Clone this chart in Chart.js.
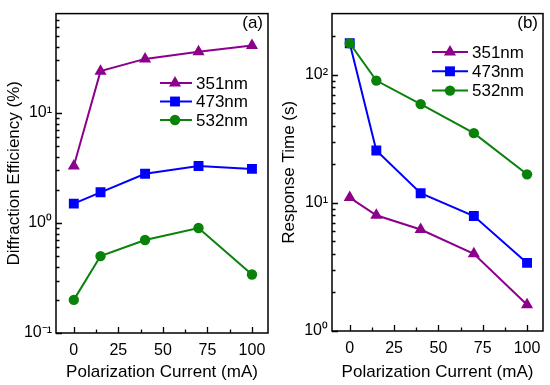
<!DOCTYPE html>
<html>
<head>
<meta charset="utf-8">
<script src="https://cdn.jsdelivr.net/npm/chart.js@4/dist/chart.umd.min.js"></script>
<style>
  html, body { margin: 0; padding: 0; background: #fff; }
  #wrap { width: 550px; height: 385px; display: flex; }
  canvas { display: block; }
</style>
</head>
<body>
<div id="wrap">
  <canvas id="effChart" width="275" height="385"></canvas>
  <canvas id="timeChart" width="275" height="385"></canvas>
</div>
<script>
// data
const current = [0, 15, 40, 70, 100];
const wavelengths = ['351nm', '473nm', '532nm'];
const eff351 = [3.3, 24, 31, 36, 41];
const eff473 = [1.5, 1.9, 2.8, 3.3, 3.1];
const eff532 = [0.2, 0.5, 0.7, 0.9, 0.34];
const time351 = [11, 8.0, 6.2, 4.0, 1.6];
const time473 = [176, 25.6, 11.9, 7.9, 3.4];
const time532 = [176, 90, 59, 35, 16.7];
const xTicks = [0, 25, 50, 75, 100];
const xMinor = [12.5, 37.5, 62.5, 87.5];

const colors = ['#8c008c', '#0000ff', '#0a820a'];
const shapes = ['triangle', 'rect', 'circle'];
const radii = [7, 7, 5.2];
const FONT = 'Liberation Sans, Arial, sans-serif';
const sup = { '-': '⁻', '0': '⁰', '1': '¹', '2': '²' };

function pts(ys) {
  return current.map((c, i) => ({ x: c, y: ys[i] }));
}

function makeSets(series) {
  return series.map((ys, i) => ({
    label: wavelengths[i],
    data: pts(ys),
    borderColor: colors[i],
    backgroundColor: colors[i],
    borderWidth: 2,
    pointStyle: shapes[i],
    pointRadius: radii[i],
    pointBorderWidth: 0,
    tension: 0,
    order: 3 - i
  }));
}

function minorTicks(min, max) {
  const out = [];
  for (let d = Math.pow(10, Math.floor(Math.log10(min))); d < max; d *= 10) {
    for (let k = 2; k <= 9; k++) {
      const v = k * d;
      if (v > min && v < max) out.push(v);
    }
  }
  return out;
}

// box, inward ticks, panel letter and in-plot legend
const frame = {
  id: 'frame',
  afterDraw(chart) {
    const { ctx, chartArea: a } = chart;
    const x = chart.scales.x, y = chart.scales.y;
    const setup = chart.config.options.frameSetup;
    ctx.save();
    ctx.strokeStyle = '#000';
    ctx.lineWidth = 1.5;
    ctx.strokeRect(a.left, a.top, a.right - a.left, a.bottom - a.top);

    ctx.lineWidth = 1.3;
    ctx.beginPath();
    for (const v of xTicks) {
      const p = Math.round(x.getPixelForValue(v)) + 0.5;
      ctx.moveTo(p, a.bottom);
      ctx.lineTo(p, a.bottom - 6);
    }
    for (const v of xMinor) {
      const p = Math.round(x.getPixelForValue(v)) + 0.5;
      ctx.moveTo(p, a.bottom);
      ctx.lineTo(p, a.bottom - 3.5);
    }
    for (const v of setup.yMajor) {
      const p = Math.round(y.getPixelForValue(v)) + 0.5;
      ctx.moveTo(a.left, p);
      ctx.lineTo(a.left + 6, p);
    }
    for (const v of minorTicks(setup.yMin, setup.yMax)) {
      const p = Math.round(y.getPixelForValue(v)) + 0.5;
      ctx.moveTo(a.left, p);
      ctx.lineTo(a.left + 3.5, p);
    }
    ctx.stroke();

    ctx.fillStyle = '#000';
    ctx.font = '17px ' + FONT;
    ctx.textAlign = 'right';
    ctx.textBaseline = 'middle';
    ctx.fillText(setup.panel, a.right - 5, 23);

    const lg = setup.legend;
    chart.data.datasets.forEach((ds, i) => {
      const ly = lg.y + i * lg.gap;
      ctx.strokeStyle = ds.borderColor;
      ctx.lineWidth = 2;
      ctx.beginPath();
      ctx.moveTo(lg.x0, ly);
      ctx.lineTo(lg.x1, ly);
      ctx.stroke();
      ctx.fillStyle = ds.backgroundColor;
      Chart.helpers.drawPoint(ctx, { pointStyle: ds.pointStyle, radius: ds.pointRadius, borderWidth: 0, rotation: 0 }, lg.xm, ly);
      ctx.fillStyle = '#000';
      ctx.textAlign = 'left';
      ctx.fillText(ds.label, lg.xt, ly + 1);
    });
    ctx.restore();
  }
};

function makeChart(id, series, setup, yTitle, yWidth, xHeight) {
  return new Chart(document.getElementById(id).getContext('2d'), {
    type: 'line',
    data: { datasets: makeSets(series) },
    options: {
      responsive: false,
      animation: false,
      devicePixelRatio: 1,
      frameSetup: setup,
      layout: { padding: { top: 10, right: 7, left: 0, bottom: 0 } },
      plugins: {
        legend: { display: false },
        tooltip: { enabled: false }
      },
      scales: {
        x: {
          type: 'linear',
          min: -10,
          max: 109,
          afterBuildTicks: s => { s.ticks = xTicks.map(v => ({ value: v })); },
          afterFit: s => { s.height = xHeight; },
          grid: { display: false, drawTicks: false },
          border: { display: false },
          ticks: { color: '#000', font: { family: FONT, size: 16 }, padding: 8, maxRotation: 0 },
          title: { display: true, text: 'Polarization Current (mA)', color: '#000', font: { family: FONT, size: 17 }, padding: { top: 2, bottom: 2 } }
        },
        y: {
          type: 'logarithmic',
          min: setup.yMin,
          max: setup.yMax,
          afterBuildTicks: s => { s.ticks = setup.yMajor.map(v => ({ value: v })); },
          afterFit: s => { s.width = yWidth; },
          grid: { display: false, drawTicks: false },
          border: { display: false },
          ticks: {
            color: '#000',
            font: { family: FONT, size: 16 },
            padding: 4,
            callback: v => '10' + String(Math.round(Math.log10(v))).split('').map(c => sup[c]).join('')
          },
          title: { display: true, text: yTitle, color: '#000', font: { family: FONT, size: 17 }, padding: { top: 4, bottom: 2 } }
        }
      }
    },
    plugins: [frame]
  });
}

makeChart('effChart', [eff351, eff473, eff532],
  { yMin: 0.1, yMax: 80, yMajor: [0.1, 1, 10], panel: '(a)',
    legend: { x0: 160, x1: 192, xm: 175, xt: 196, y: 83, gap: 18.5 } },
  'Diffraction Efficiency (%)', 56, 52);

makeChart('timeChart', [time351, time473, time532],
  { yMin: 1, yMax: 300, yMajor: [1, 10, 100], panel: '(b)',
    legend: { x0: 157, x1: 193, xm: 175, xt: 197, y: 52, gap: 19.3 } },
  'Response Time (s)', 57, 54);
</script>
</body>
</html>
